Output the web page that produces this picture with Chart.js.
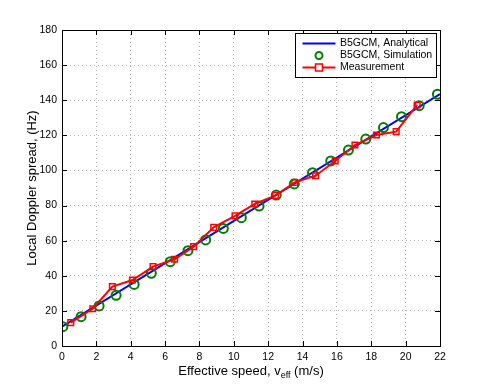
<!DOCTYPE html>
<html>
<head>
<meta charset="utf-8">
<script src="https://cdn.jsdelivr.net/npm/chart.js@4.4.0/dist/chart.umd.min.js"></script>
<style>
	html, body { margin: 0; background: #fff; }
</style>
</head>
<body>
<canvas id="doppler" width="485" height="389"></canvas>
<script>
(function() {
	'use strict';

	// Values.
	const xTicks = [0, 2, 4, 6, 8, 10, 12, 14, 16, 18, 20, 22];
	const yTicks = [0, 20, 40, 60, 80, 100, 120, 140, 160, 180];

	const anaSpeed = [0, 22];
	const anaSpread = [11.0, 143.5];

	const simSpeed = [0.05, 1.11, 2.16, 3.15, 4.2, 5.2, 6.3, 7.33, 8.36, 9.39, 10.44,
		11.47, 12.47, 13.52, 14.58, 15.64, 16.67, 17.68, 18.71, 19.76, 20.79, 21.85];
	const simSpread = [11.0, 16.7, 22.8, 28.9, 35.1, 41.4, 48.0, 54.3, 60.4, 67.0, 73.1,
		79.7, 86.0, 92.3, 98.7, 105.4, 111.6, 117.9, 124.4, 130.6, 136.9, 143.4];

	const measSpeed = [0.51, 1.79, 2.93, 4.1, 5.3, 6.55, 7.66, 8.83, 10.07, 11.22, 12.43,
		13.55, 14.76, 15.9, 17.05, 18.3, 19.45, 20.67];
	const measSpread = [13.3, 21.2, 33.8, 37.6, 45.2, 49.4, 56.6, 67.6, 74.1, 80.9, 85.8,
		93.2, 97.0, 105.4, 114.5, 120.2, 122.1, 137.3];

	const labels = ['B5GCM, Analytical', 'B5GCM, Simulation', 'Measurement'];
	const colors = { ana: '#0000ff', sim: '#008000', meas: '#ff0000' };

	function pairs(xs, ys) {
		return xs.map(function(x, i) { return { x: x, y: ys[i] }; });
	}

	const FONT = '"Liberation Sans", Arial, Helvetica, sans-serif';
	Chart.defaults.font.family = FONT;
	Chart.defaults.color = '#000';

	// Matlab-like frame, inward ticks, axis titles and boxed legend.
	const matlabAxes = {
		id: 'matlabAxes',
		afterDraw: function(chart) {
			const ctx = chart.ctx;
			const a = chart.chartArea;
			const xs = chart.scales.x;
			const ys = chart.scales.y;
			const tick = 5;

			ctx.save();
			ctx.strokeStyle = '#000';
			ctx.lineWidth = 1;
			ctx.beginPath();
			xTicks.forEach(function(v) {
				const px = Math.round(xs.getPixelForValue(v)) + 0.5;
				ctx.moveTo(px, a.bottom); ctx.lineTo(px, a.bottom - tick);
				ctx.moveTo(px, a.top); ctx.lineTo(px, a.top + tick);
			});
			yTicks.forEach(function(v) {
				const py = Math.round(ys.getPixelForValue(v)) + 0.5;
				ctx.moveTo(a.left, py); ctx.lineTo(a.left + tick, py);
				ctx.moveTo(a.right, py); ctx.lineTo(a.right - tick, py);
			});
			ctx.stroke();
			ctx.strokeRect(Math.round(a.left) + 0.5, Math.round(a.top) + 0.5,
				Math.round(a.right - a.left), Math.round(a.bottom - a.top));

			// Axis titles.
			ctx.fillStyle = '#000';
			ctx.textBaseline = 'middle';
			const cx = (a.left + a.right) / 2;
			const p1 = 'Effective speed, v';
			const p2 = 'eff';
			const p3 = ' (m/s)';
			ctx.font = '13px ' + FONT;
			const w1 = ctx.measureText(p1).width;
			const w3 = ctx.measureText(p3).width;
			ctx.font = '9px ' + FONT;
			const w2 = ctx.measureText(p2).width;
			const sx = cx - (w1 + w2 + w3) / 2;
			const ty = 371;
			ctx.textAlign = 'left';
			ctx.font = '13px ' + FONT;
			ctx.fillText(p1, sx, ty);
			ctx.font = '9px ' + FONT;
			ctx.fillText(p2, sx + w1, ty + 5);
			ctx.font = '13px ' + FONT;
			ctx.fillText(p3, sx + w1 + w2, ty);

			ctx.save();
			ctx.translate(32, (a.top + a.bottom) / 2);
			ctx.rotate(-Math.PI / 2);
			ctx.textAlign = 'center';
			ctx.fillText('Local Doppler spread, (Hz)', 0, 0);
			ctx.restore();

			// Legend box.
			const bx = 295.5, by = 33.5, bw = 141, bh = 44;
			ctx.fillStyle = '#fff';
			ctx.fillRect(bx, by, bw, bh);
			ctx.strokeStyle = '#000';
			ctx.lineWidth = 1;
			ctx.strokeRect(bx, by, bw, bh);
			const rows = [43.5, 55.5, 67.5];
			const lx0 = 302.5, lx1 = 335.5, mx = (lx0 + lx1) / 2;

			ctx.lineWidth = 2;
			ctx.strokeStyle = colors.ana;
			ctx.beginPath(); ctx.moveTo(lx0, rows[0]); ctx.lineTo(lx1, rows[0]); ctx.stroke();

			ctx.strokeStyle = colors.sim;
			ctx.beginPath(); ctx.arc(mx, rows[1], 3.5, 0, Math.PI * 2); ctx.stroke();

			ctx.strokeStyle = colors.meas;
			ctx.beginPath(); ctx.moveTo(lx0, rows[2]); ctx.lineTo(lx1, rows[2]); ctx.stroke();
			ctx.lineWidth = 1.5;
			ctx.fillStyle = '#fff';
			ctx.fillRect(mx - 3.5, rows[2] - 3.5, 7, 7);
			ctx.strokeRect(mx - 3.5, rows[2] - 3.5, 7, 7);

			ctx.fillStyle = '#000';
			ctx.font = '10.5px ' + FONT;
			ctx.textAlign = 'left';
			labels.forEach(function(t, i) { ctx.fillText(t, 340, rows[i]); });
			ctx.restore();
		}
	};

	const ctx = document.getElementById('doppler').getContext('2d');

	new Chart(ctx, {
		type: 'scatter',
		data: {
			datasets: [
				{
					label: labels[2],
					data: pairs(measSpeed, measSpread),
					showLine: true,
					borderColor: colors.meas,
					backgroundColor: 'rgba(0,0,0,0)',
					borderWidth: 2,
					pointStyle: 'rect',
					pointRadius: 4,
					pointBorderWidth: 1.5,
					order: 1
				},
				{
					label: labels[1],
					data: pairs(simSpeed, simSpread),
					showLine: false,
					borderColor: colors.sim,
					backgroundColor: 'rgba(0,0,0,0)',
					pointStyle: 'circle',
					pointRadius: 4.5,
					pointBorderWidth: 2,
					order: 2
				},
				{
					label: labels[0],
					data: pairs(anaSpeed, anaSpread),
					showLine: true,
					borderColor: colors.ana,
					backgroundColor: colors.ana,
					borderWidth: 2,
					pointRadius: 0,
					order: 3
				}
			]
		},
		options: {
			responsive: false,
			animation: false,
			layout: { padding: { left: 0, top: 30, right: 45, bottom: 0 } },
			plugins: {
				legend: { display: false },
				tooltip: { enabled: false }
			},
			scales: {
				x: {
					type: 'linear',
					min: 0,
					max: 22,
					afterFit: function(scale) { scale.height = 43; },
					afterBuildTicks: function(scale) {
						scale.ticks = xTicks.map(function(v) { return { value: v }; });
					},
					grid: { color: '#b4b4b4', lineWidth: 1, drawTicks: false },
					border: { display: false, dash: [1, 3] },
					ticks: { padding: 5, font: { size: 10.5 }, color: '#000', maxRotation: 0 }
				},
				y: {
					type: 'linear',
					min: 0,
					max: 180,
					afterFit: function(scale) { scale.width = 62; },
					afterBuildTicks: function(scale) {
						scale.ticks = yTicks.map(function(v) { return { value: v }; });
					},
					grid: { color: '#b4b4b4', lineWidth: 1, drawTicks: false },
					border: { display: false, dash: [1, 3] },
					ticks: { padding: 5, font: { size: 10.5 }, color: '#000' }
				}
			}
		},
		plugins: [matlabAxes]
	});
})();
</script>
</body>
</html>
